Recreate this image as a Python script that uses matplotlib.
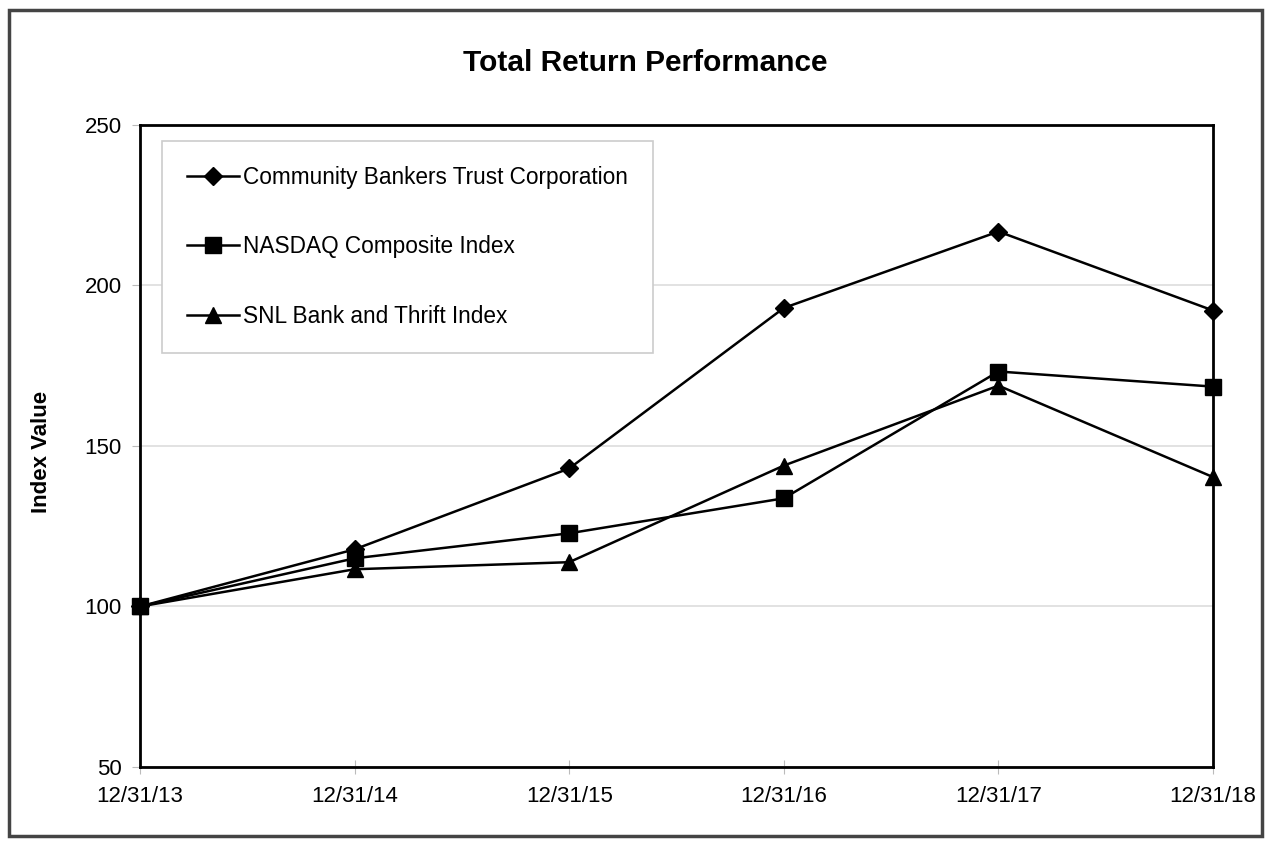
import matplotlib.pyplot as plt
from matplotlib.patches import Rectangle

plt.rcParams['font.family'] = ['Liberation Sans', 'DejaVu Sans']

dates = ['12/31/13', '12/31/14', '12/31/15', '12/31/16', '12/31/17', '12/31/18']
cbtc = [100, 117.8, 143.0, 193.0, 216.8, 192.2]
nasdaq = [100, 115.0, 122.8, 133.7, 173.2, 168.5]
snl = [100, 111.6, 113.8, 143.9, 168.8, 140.3]

fig = plt.figure(figsize=(12.7, 8.41), dpi=100)
ax = fig.add_axes([0.1102, 0.088, 0.845, 0.7634])

x = range(len(dates))
ax.plot(x, cbtc, color='black', lw=1.8, marker='D', ms=9, clip_on=False,
        label='Community Bankers Trust Corporation')
ax.plot(x, nasdaq, color='black', lw=1.8, marker='s', ms=11, clip_on=False,
        label='NASDAQ Composite Index')
ax.plot(x, snl, color='black', lw=1.8, marker='^', ms=11.5, clip_on=False,
        label='SNL Bank and Thrift Index')

ax.set_xlim(0, 5)
ax.set_ylim(50, 250)
ax.set_yticks([50, 100, 150, 200, 250])
ax.set_xticks(list(x))
ax.set_xticklabels(dates)
ax.tick_params(axis='both', labelsize=16, color='#bbbbbb', length=6, pad=7)
ax.tick_params(axis='x', direction='inout', length=10, pad=9)
ax.yaxis.grid(True, color='#dddddd', lw=1.2)
ax.set_axisbelow(True)
for s in ax.spines.values():
    s.set_linewidth(2)

ax.set_ylabel('Index Value', fontsize=16, fontweight='bold')
ax.yaxis.set_label_coords(-0.082, 0.49)
fig.text(0.508, 0.925, 'Total Return Performance', ha='center', va='center',
         fontsize=21.5, fontweight='bold')

leg = ax.legend(loc='upper left', bbox_to_anchor=(0.021, 0.975), fontsize=16.3,
                labelspacing=2.05, handlelength=2.3, handletextpad=0.15,
                borderpad=1.1, borderaxespad=0, fancybox=False, framealpha=1)
leg.get_frame().set_edgecolor('#cccccc')
leg.get_frame().set_linewidth(1.2)

fig.patches.append(Rectangle((9 / 1270, 5 / 841), 1253 / 1270, 826 / 841,
                             transform=fig.transFigure, fill=False,
                             edgecolor='#444444', lw=2.5))

fig.savefig('out.png', dpi=100)
